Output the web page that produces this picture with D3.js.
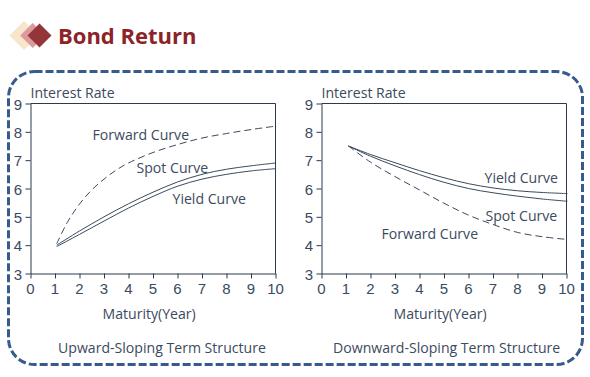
<!DOCTYPE html>
<html>
<head>
<meta charset="utf-8">
<script src="https://cdn.jsdelivr.net/npm/d3@7/dist/d3.min.js"></script>
<style>
  html, body { margin: 0; padding: 0; background: #fff; }
  svg { display: block; font-family: "Open Sans", sans-serif; }
</style>
</head>
<body>
<div id="chart"></div>
<script>
// values, [maturity, rate]
const upSpot = [[1.07,4.0],[2,4.5],[3,5.0],[4,5.46],[5,5.87],[6,6.23],[7,6.5],[8,6.68],[9,6.8],[10,6.9]];
const upYield = [[1.07,3.95],[2,4.38],[3,4.85],[4,5.31],[5,5.72],[6,6.08],[7,6.33],[8,6.5],[9,6.62],[10,6.7]];
const upForward = [[1.07,4.05],[1.5,4.8],[2,5.45],[2.5,5.95],[3,6.33],[3.5,6.65],[4,6.9],[5,7.27],[6,7.55],[7,7.78],[8,7.94],[9,8.08],[10,8.2]];

const downYield = [[1.1,7.5],[2,7.2],[3,6.91],[4,6.63],[5,6.38],[6,6.17],[7,6.02],[8,5.92],[9,5.86],[10.04,5.82]];
const downSpot = [[1.1,7.5],[2,7.14],[3,6.8],[4,6.49],[5,6.22],[6,6.0],[7,5.85],[8,5.73],[9,5.63],[10.04,5.55]];
const downForward = [[1.1,7.5],[2,6.93],[3,6.42],[4,5.95],[5,5.48],[6,5.06],[7,4.73],[8,4.45],[9,4.3],[10.04,4.2]];

const xTicks = [0,1,2,3,4,5,6,7,8,9,10];
const yTicks = [3,4,5,6,7,8,9];

const ink = "#2b3a4e", lineCol = "#3b4a5e", textCol = "#3c4a5e", blue = "#365b8c", red = "#8c2328";

const svg = d3.select("#chart").append("svg")
    .attr("width", 590)
    .attr("height", 377);

// header diamonds
[[24, 14.5, "#f8e6cb"], [32.7, 12.5, "#dc9a9a"], [39.5, 12, "#94353a"]].forEach(([cx, r, col]) => {
    svg.append("path")
        .attr("d", `M${cx - r},35.5 L${cx},${35.5 - r} L${cx + r},35.5 L${cx},${35.5 + r} Z`)
        .attr("fill", col);
});

svg.append("text")
    .attr("x", 58)
    .attr("y", 43.5)
    .attr("fill", red)
    .style("font-size", "22px")
    .style("font-weight", "bold")
    .text("Bond Return");

// dashed frame
svg.append("rect")
    .attr("x", 8.5)
    .attr("y", 71.5)
    .attr("width", 574)
    .attr("height", 293)
    .attr("rx", 26)
    .attr("fill", "none")
    .attr("stroke", blue)
    .attr("stroke-width", 3)
    .attr("stroke-dasharray", "8 3");

function panel(left, series, labels, caption, captionX) {
    const x = d3.scaleLinear().domain([0, 10]).range([left, left + 245]);
    const y = d3.scaleLinear().domain([3, 9]).range([273.5, 103.5]);

    // box
    svg.append("path")
        .attr("d", `M${left},103.5 H${left + 245} V273.5`)
        .attr("fill", "none")
        .attr("stroke", ink);

    const gx = svg.append("g")
        .attr("transform", "translate(0,273.5)")
        .call(d3.axisBottom(x).tickValues(xTicks).tickFormat(d3.format("d")).tickSize(5).tickSizeOuter(0));
    const gy = svg.append("g")
        .attr("transform", `translate(${left},0)`)
        .call(d3.axisLeft(y).tickValues(yTicks).tickFormat(d3.format("d")).tickSize(5).tickSizeOuter(0));

    [gx, gy].forEach(g => {
        g.selectAll("path,line").attr("stroke", ink);
        g.selectAll("text")
            .attr("fill", textCol)
            .style("font-size", "15px");
    });
    gx.selectAll("text").attr("dx", "-0.5").attr("y", 10);
    gy.selectAll("text").attr("x", -8.5).attr("dy", "0.38em").attr("text-anchor", "end");

    const lineGen = d3.line()
        .x(d => x(d[0]))
        .y(d => y(d[1]))
        .curve(d3.curveCatmullRom);

    series.forEach(s => {
        svg.append("path")
            .datum(s.values)
            .attr("fill", "none")
            .attr("stroke", lineCol)
            .attr("stroke-width", 1)
            .attr("stroke-dasharray", s.dash || null)
            .attr("d", lineGen);
    });

    // in-plot labels
    labels.forEach(l => {
        svg.append("text")
            .attr("x", left + l.dx)
            .attr("y", l.y)
            .attr("fill", textCol)
            .style("font-size", "14.1px")
            .text(l.text);
    });

    svg.append("text")
        .attr("x", left)
        .attr("y", 98)
        .attr("fill", textCol)
        .style("font-size", "14.1px")
        .text("Interest Rate");

    svg.append("text")
        .attr("x", left + 72)
        .attr("y", 319)
        .attr("fill", textCol)
        .style("font-size", "14.1px")
        .text("Maturity(Year)");

    svg.append("text")
        .attr("x", captionX)
        .attr("y", 353)
        .attr("fill", textCol)
        .style("font-size", "14.1px")
        .text(caption);
}

panel(30.5,
    [{ values: upSpot }, { values: upYield }, { values: upForward, dash: "7 4" }],
    [{ text: "Forward Curve", dx: 62, y: 140 }, { text: "Spot Curve", dx: 106, y: 173 }, { text: "Yield Curve", dx: 142, y: 204 }],
    "Upward-Sloping Term Structure", 58);

panel(321.5,
    [{ values: downYield }, { values: downSpot }, { values: downForward, dash: "7 4" }],
    [{ text: "Forward Curve", dx: 60, y: 239 }, { text: "Spot Curve", dx: 164, y: 221 }, { text: "Yield Curve", dx: 163, y: 183 }],
    "Downward-Sloping Term Structure", 333);
</script>
</body>
</html>
